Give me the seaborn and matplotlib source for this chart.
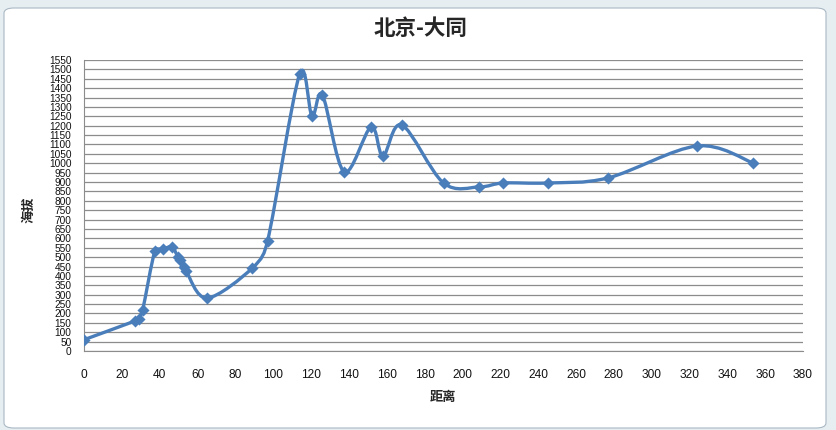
import seaborn as sns
import matplotlib.pyplot as plt
import numpy as np
import pandas as pd
from matplotlib.path import Path
from matplotlib.patches import PathPatch, FancyBboxPatch

# distance (km) and altitude (m)
distance = [0, 27, 29, 31, 37.5, 41.8, 46.5, 49.7, 51, 52.8, 54, 65, 89, 97,
            114, 120.5, 126, 137.5, 151.7, 158, 168, 190, 209, 221.5, 245, 277, 324, 353.6]
altitude = [60, 160, 170, 218, 533, 543, 554, 500, 485, 450, 426, 282, 442, 586,
            1476, 1252, 1364, 954, 1193, 1039, 1204, 895, 874, 895, 895, 922, 1092, 1002]

title = '北京-大同'
xlabel = '距离'
ylabel = '海拔'
xticks = list(range(0, 381, 20))
yticks = list(range(0, 1551, 50))

df = pd.DataFrame({'distance': distance, 'altitude': altitude})

sns.set_style('white')
plt.rcParams['font.family'] = ['Noto Sans CJK SC', 'DejaVu Sans']

blue = '#4a7ebb'
fig = plt.figure(figsize=(8.36, 4.3), dpi=100, facecolor='#e6eef2')
# chart area box
fig.patches.append(FancyBboxPatch((4 / 836, 2 / 430), 822 / 836, 420 / 430,
                                  boxstyle='round,pad=0,rounding_size=0.012',
                                  transform=fig.transFigure, facecolor='white',
                                  edgecolor='#a9b8c4', linewidth=0.8, zorder=-1))

ax = fig.add_axes([84 / 836, 1 - 351 / 430, (803 - 84) / 836, (351 - 60) / 430])
ax.set_facecolor('none')

# smoothed line like Excel: cubic bezier through points (catmull-rom control points,
# with handle length capped so steep segments don't overshoot)
pts = np.column_stack([distance, altitude]).astype(float)
sc = np.array([719 / 380, 291 / 1550])  # rough px per unit, only to measure lengths


def cap(p, c, seg):
    v = (c - p) * sc
    L = np.hypot(*v)
    lim = 0.45 * np.hypot(*(seg * sc))
    if L > lim:
        return p + (c - p) * lim / L
    return c


verts = [pts[0]]
codes = [Path.MOVETO]
n = len(pts)
for i in range(n - 1):
    p0 = pts[i - 1] if i > 0 else pts[i]
    p1 = pts[i]
    p2 = pts[i + 1]
    p3 = pts[i + 2] if i + 2 < n else pts[i + 1]
    seg = p2 - p1
    c1 = cap(p1, p1 + (p2 - p0) / 6, seg)
    c2 = cap(p2, p2 - (p3 - p1) / 6, seg)
    verts += [c1, c2, p2]
    codes += [Path.CURVE4] * 3
ax.add_patch(PathPatch(Path(verts, codes), facecolor='none', edgecolor=blue,
                       linewidth=2.4, capstyle='round', joinstyle='round', zorder=3))

sns.scatterplot(data=df, x='distance', y='altitude', marker='D', s=38,
                color=blue, edgecolor=blue, linewidth=0, ax=ax, zorder=4)

ax.set_xlim(0, 380)
ax.set_ylim(0, 1550)
ax.set_xticks(xticks)
ax.set_yticks(yticks)
ax.tick_params(axis='both', length=0, labelcolor='#111111')
ax.tick_params(axis='x', pad=13, labelsize=8.6)
ax.tick_params(axis='y', pad=9, labelsize=7.3)
for lab in ax.get_xticklabels() + ax.get_yticklabels():
    lab.set_family(['Liberation Sans', 'DejaVu Sans'])
ax.yaxis.grid(True, color='#8c8c8c', linewidth=0.9)
ax.xaxis.grid(False)
for side in ['top', 'right']:
    ax.spines[side].set_visible(False)
ax.spines['left'].set_color('#8c8c8c')
ax.spines['bottom'].set_color('#8c8c8c')

ax.set_xlabel(xlabel, fontsize=9.5, fontweight='bold')
ax.set_ylabel(ylabel, fontsize=9.5, fontweight='bold')
ax.xaxis.set_label_coords(0.5 + (443 - 443.5) / 719, -(397 - 351) / 291)
ax.yaxis.set_label_coords(-(84 - 28) / 719, 0.5 - (210 - 205.5) / 291)
ax.xaxis.label.set_va('center')
ax.yaxis.label.set_va('center')
fig.text(0.503, 1 - 28 / 430, title, fontsize=15.5, fontweight='bold',
         ha='center', va='center')

plt.savefig('out.png', dpi=100, facecolor=fig.get_facecolor())
